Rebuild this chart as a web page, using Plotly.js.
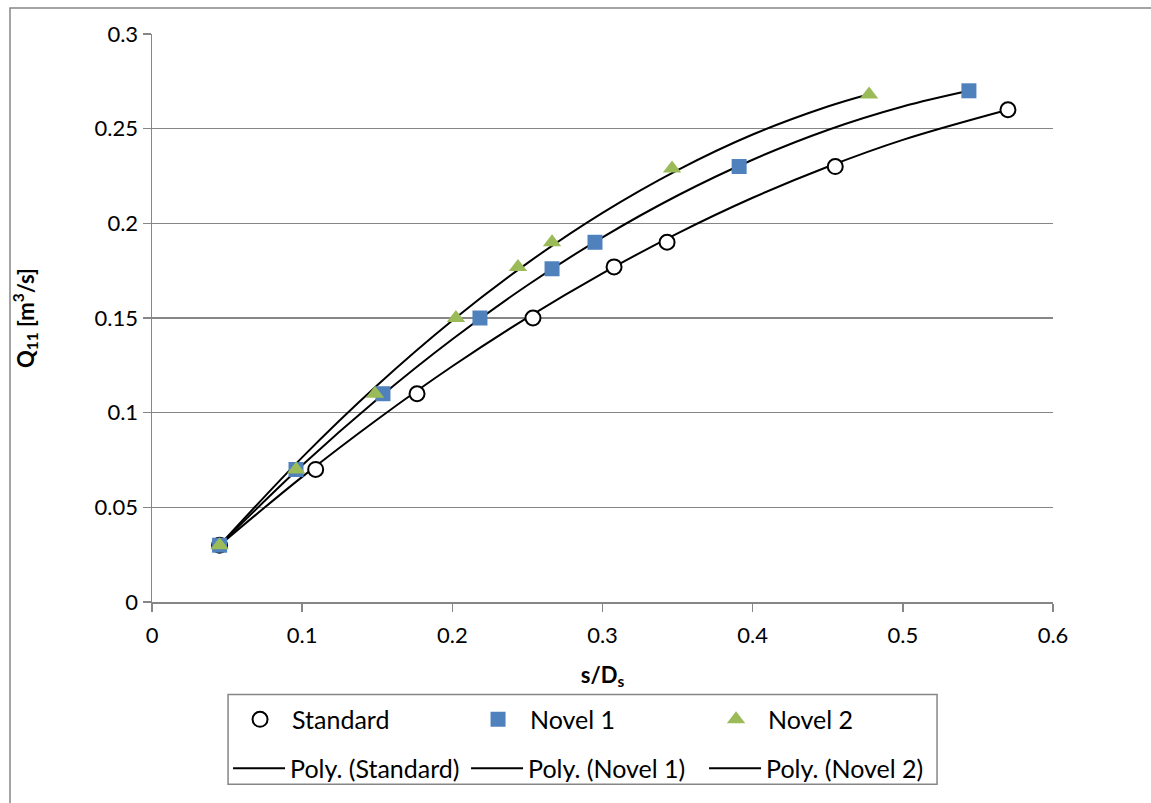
<!DOCTYPE html>
<html>
<head>
<meta charset="utf-8">
<script src="https://cdn.plot.ly/plotly-3.0.1.min.js"></script>
<style>html,body{margin:0;padding:0;background:#fff;}#chart{width:1151px;height:803px;}</style>
</head>
<body>
<div id="chart"></div>
<script>
// Measured points
var stdX = [0.045, 0.109, 0.1765, 0.2537, 0.3077, 0.343, 0.455, 0.570];
var stdY = [0.030, 0.070, 0.110, 0.150, 0.177, 0.190, 0.230, 0.260];
var nov1X = [0.045, 0.0959, 0.1538, 0.2184, 0.2664, 0.295, 0.391, 0.544];
var nov1Y = [0.030, 0.070, 0.110, 0.150, 0.176, 0.190, 0.230, 0.270];
var nov2X = [0.045, 0.096, 0.1485, 0.2024, 0.2437, 0.2664, 0.3463, 0.4775];
var nov2Y = [0.030, 0.070, 0.110, 0.150, 0.177, 0.190, 0.229, 0.268];

// Trendline (Poly.) points
var polyStdX = [0.045, 0.1, 0.15, 0.2, 0.25, 0.3, 0.35, 0.4, 0.45, 0.5, 0.57];
var polyStdY = [0.0300, 0.0661, 0.0964, 0.1245, 0.1502, 0.1736, 0.1947, 0.2135, 0.2299, 0.2441, 0.2600];
var polyN1X = [0.045, 0.1, 0.15, 0.2, 0.25, 0.3, 0.35, 0.4, 0.45, 0.5, 0.544];
var polyN1Y = [0.0300, 0.0722, 0.1071, 0.1388, 0.1673, 0.1926, 0.2147, 0.2336, 0.2493, 0.2617, 0.2700];
var polyN2X = [0.045, 0.1, 0.15, 0.2, 0.25, 0.3, 0.35, 0.4, 0.45, 0.4775];
var polyN2Y = [0.0300, 0.0764, 0.1145, 0.1487, 0.1790, 0.2055, 0.2281, 0.2469, 0.2617, 0.2682];

var xTicks = [0, 0.1, 0.2, 0.3, 0.4, 0.5, 0.6];
var xTickText = ['0', '0.1', '0.2', '0.3', '0.4', '0.5', '0.6'];
var yTicks = [0, 0.05, 0.1, 0.15, 0.2, 0.25, 0.3];
var yTickText = ['0', '0.05', '0.1', '0.15', '0.2', '0.25', '0.3'];

var FONT = 'Lato, "Open Sans", sans-serif';

function polyTrace(x, y, name) {
  return {x: x, y: y, name: name, type: 'scatter', mode: 'lines', legend: 'legend2',
    line: {color: '#000000', width: 2, shape: 'spline', smoothing: 1},
    hoverinfo: 'skip'};
}

var data = [
  polyTrace(polyStdX, polyStdY, 'Poly. (Standard)'),
  polyTrace(polyN1X, polyN1Y, 'Poly. (Novel 1)'),
  polyTrace(polyN2X, polyN2Y, 'Poly. (Novel 2)'),
  {x: stdX, y: stdY, name: 'Standard', type: 'scatter', mode: 'markers', legend: 'legend',
   marker: {symbol: 'circle', size: 15, color: '#ffffff', line: {color: '#000000', width: 2}}},
  {x: nov1X, y: nov1Y, name: 'Novel 1', type: 'scatter', mode: 'markers', legend: 'legend',
   marker: {symbol: 'square', size: 15, color: '#4F81BD', line: {width: 0}}},
  {x: nov2X, y: nov2Y, name: 'Novel 2', type: 'scatter', mode: 'markers', legend: 'legend',
   marker: {symbol: 'triangle-up', size: 16, color: '#9BBB59', line: {width: 0}}}
];

var legendFont = {family: FONT, size: 25, color: '#000000'};

var layout = {
  width: 1151, height: 803,
  paper_bgcolor: '#ffffff', plot_bgcolor: '#ffffff',
  margin: {l: 152, r: 98, t: 34, b: 199, pad: 0},
  font: {family: FONT, size: 22, color: '#000000'},
  showlegend: true,
  xaxis: {
    range: [0, 0.6], tickvals: xTicks, ticktext: xTickText,
    showgrid: false, zeroline: false, showline: true, linecolor: '#868686', linewidth: 1.5,
    ticks: 'outside', ticklen: 8, tickcolor: '#868686', tickwidth: 1.5, ticklabelstandoff: 5,
    tickfont: {family: FONT, size: 22, color: '#000000'},
    title: {text: '<b>s/D<sub>s</sub></b>', font: {family: FONT, size: 22, color: '#000000'}, standoff: 20}
  },
  yaxis: {
    range: [0, 0.3], tickvals: yTicks, ticktext: yTickText,
    showgrid: true, gridcolor: '#868686', gridwidth: 1.5,
    zeroline: false, showline: true, linecolor: '#868686', linewidth: 1.5,
    ticks: 'outside', ticklen: 8, tickcolor: '#868686', tickwidth: 1.5,
    tickfont: {family: FONT, size: 22, color: '#000000'},
    title: {text: '<b>Q<sub>11</sub> [m<sup>3</sup>/s]</b>', font: {family: FONT, size: 22, color: '#000000'}, standoff: 54}
  },
  legend: {
    orientation: 'h', x: 0.0844, xanchor: 'left', y: -0.207, yanchor: 'middle',
    traceorder: 'normal', entrywidth: 169, itemwidth: 54,
    borderwidth: 0, bgcolor: 'rgba(0,0,0,0)', font: legendFont
  },
  legend2: {
    orientation: 'h', x: 0.0844, xanchor: 'left', y: -0.293, yanchor: 'middle',
    traceorder: 'normal', entrywidth: 171, itemwidth: 52,
    borderwidth: 0, bgcolor: 'rgba(0,0,0,0)', font: legendFont
  },
  shapes: [{
    type: 'rect', xref: 'paper', yref: 'paper',
    x0: -0.1576, x1: 1.12, y0: -0.37, y1: 1.0456,
    line: {color: '#868686', width: 1.5}, fillcolor: 'rgba(0,0,0,0)', layer: 'below'
  }, {
    type: 'rect', xref: 'paper', yref: 'paper',
    x0: 0.0844, x1: 0.8713, y0: -0.321, y1: -0.163,
    line: {color: '#868686', width: 1.5}, fillcolor: 'rgba(0,0,0,0)', layer: 'below'
  }]
};

Plotly.newPlot('chart', data, layout, {displayModeBar: false, staticPlot: true});
</script>
</body>
</html>
